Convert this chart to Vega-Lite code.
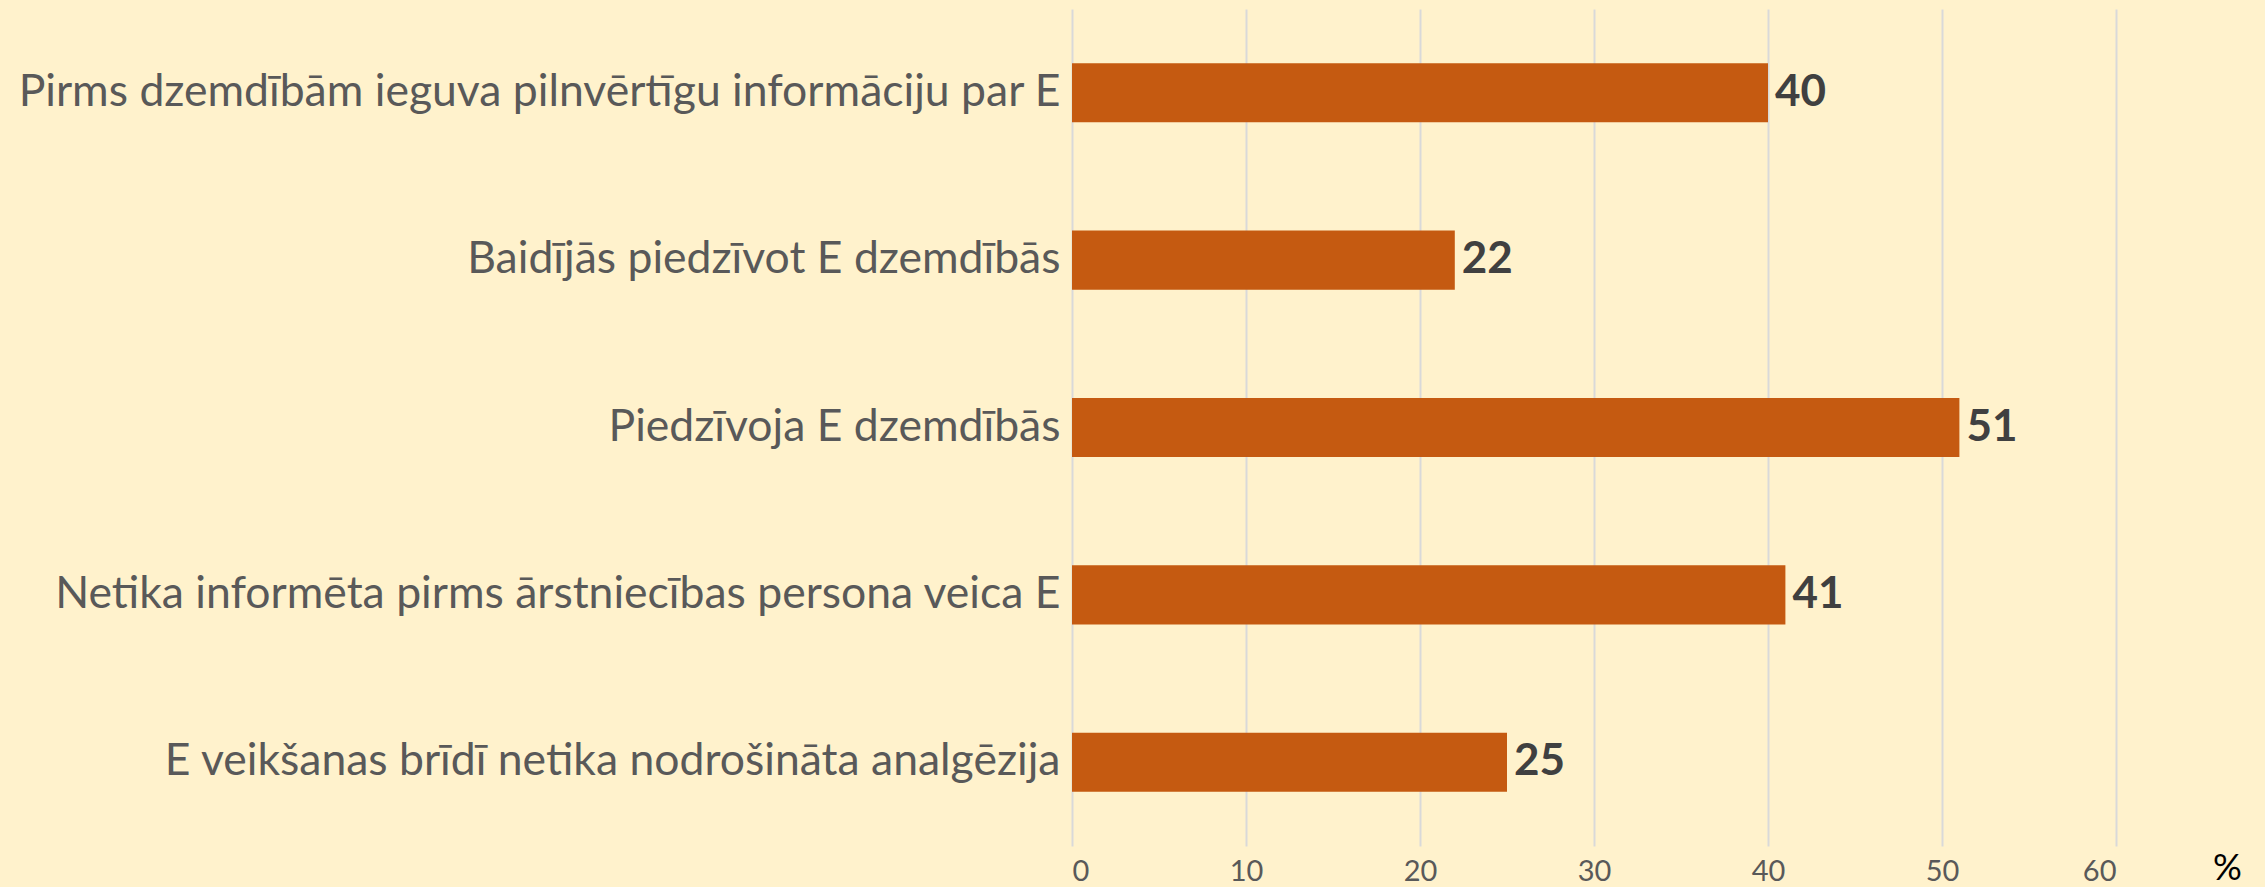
{
  "$schema": "https://vega.github.io/schema/vega-lite/v6.json",
  "width": 1044,
  "height": 837,
  "autosize": {"type": "none"},
  "padding": {"left": 1072, "top": 9, "right": 149, "bottom": 41},
  "background": "#FFF2CC",
  "config": {
    "view": {"stroke": null},
    "font": "Lato"
  },
  "data": {
    "values": [
      {"label": "Pirms dzemdībām ieguva pilnvērtīgu informāciju par E", "value": 40},
      {"label": "Baidījās piedzīvot E dzemdībās", "value": 22},
      {"label": "Piedzīvoja E dzemdībās", "value": 51},
      {"label": "Netika informēta pirms ārstniecības persona veica E", "value": 41},
      {"label": "E veikšanas brīdī netika nodrošināta analgēzija", "value": 25}
    ]
  },
  "encoding": {
    "y": {
      "field": "label",
      "type": "nominal",
      "sort": null,
      "scale": {"paddingInner": 0.647, "paddingOuter": 0.3235},
      "axis": {
        "title": null,
        "domain": false,
        "ticks": false,
        "grid": false,
        "labelFont": "Lato",
        "labelFontSize": 44.5,
        "labelColor": "#595959",
        "labelPadding": 12,
        "labelLimit": 1100
      }
    },
    "x": {
      "field": "value",
      "type": "quantitative",
      "scale": {"domain": [0, 60], "nice": false},
      "axis": {
        "values": [0, 10, 20, 30, 40, 50, 60],
        "domain": false,
        "ticks": false,
        "grid": true,
        "gridColor": "#D9D9D9",
        "gridWidth": 2,
        "labelFont": "Lato",
        "labelFontSize": 29,
        "labelColor": "#595959",
        "labelPadding": 11,
        "title": "%",
        "titleFont": "Lato",
        "titleFontSize": 36,
        "titleFontWeight": "normal",
        "titleColor": "#000000",
        "titleAnchor": "start",
        "titleAlign": "center",
        "titleBaseline": "bottom",
        "titleX": 1155,
        "titleY": 41
      }
    }
  },
  "layer": [
    {"mark": {"type": "bar", "color": "#C55A11"}},
    {
      "mark": {
        "type": "text",
        "align": "left",
        "baseline": "middle",
        "dx": 7,
        "font": "Lato",
        "fontSize": 44,
        "fontWeight": "bold",
        "color": "#404040"
      },
      "encoding": {"text": {"field": "value", "type": "quantitative"}}
    }
  ]
}
